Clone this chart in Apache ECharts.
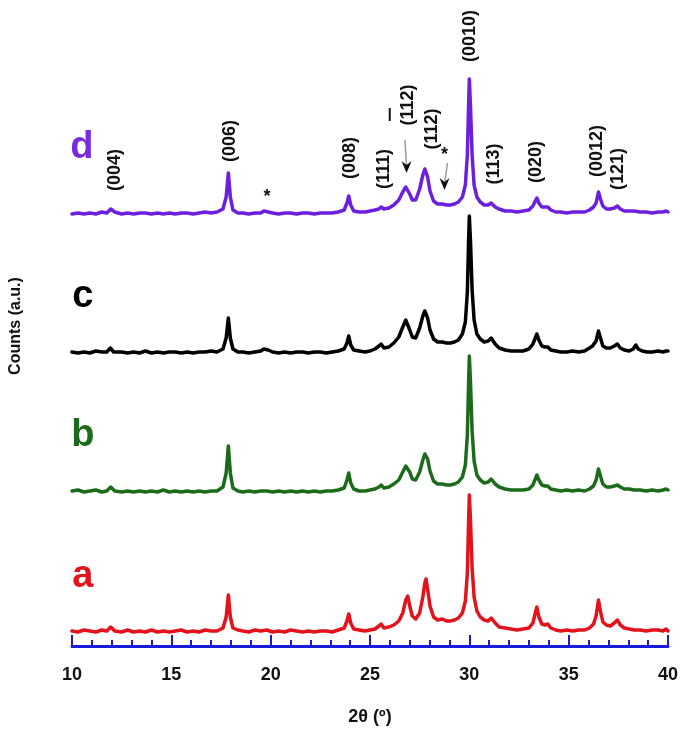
<!DOCTYPE html>
<html>
<head>
<meta charset="utf-8">
<script src="https://cdn.jsdelivr.net/npm/echarts@6/dist/echarts.min.js"></script>
<style>
html,body{margin:0;padding:0;background:#fff;}
#main{width:685px;height:736px;}
</style>
</head>
<body>
<div id="main"></div>
<script>
// ---- Data (2θ in degrees, intensity in arbitrary counts) ----
const sampleNames = ['a', 'b', 'c', 'd'];
const sampleOffsets = [13, 153, 292, 431];

const patternA = [[10.0,2],[10.3,1],[10.6,3],[10.9,2],[11.2,1],[11.5,3],[11.75,2],[11.95,6],[12.15,2],[12.5,1],[12.8,3],[13.1,1],[13.4,2],[13.7,1],[14.0,3],[14.3,1],[14.6,2],[14.9,1],[15.2,2],[15.5,3],[15.8,1],[16.1,2],[16.4,1],[16.7,3],[17.0,2],[17.3,2],[17.6,5],[17.76,16],[17.87,38],[17.97,16],[18.1,5],[18.35,3],[18.6,2],[18.9,1],[19.2,3],[19.5,2],[19.8,3],[20.1,1],[20.4,2],[20.7,1],[21.0,3],[21.3,2],[21.6,1],[21.9,2],[22.2,1],[22.5,2],[22.8,2],[23.1,1],[23.4,3],[23.7,5],[23.84,12],[23.93,19],[24.03,10],[24.18,4],[24.45,3],[24.75,2],[25.0,3],[25.25,4],[25.45,7],[25.56,9],[25.7,5],[25.95,6],[26.2,8],[26.45,12],[26.65,20],[26.8,33],[26.9,37],[27.0,27],[27.13,17],[27.3,14],[27.5,20],[27.66,36],[27.76,50],[27.82,54],[27.9,44],[28.02,27],[28.2,16],[28.4,13],[28.64,14],[28.85,12],[29.05,12],[29.25,13],[29.45,15],[29.65,20],[29.8,32],[29.9,60],[29.96,110],[30.0,138],[30.06,112],[30.14,65],[30.24,36],[30.38,22],[30.55,16],[30.75,13],[30.95,12],[31.1,15],[31.17,16],[31.3,10],[31.5,6],[31.8,5],[32.1,4],[32.4,3],[32.7,4],[33.0,5],[33.2,10],[33.32,20],[33.4,26],[33.5,16],[33.65,9],[33.8,8],[33.95,9],[34.1,5],[34.35,3],[34.6,2],[34.9,3],[35.2,2],[35.5,3],[35.8,3],[36.05,5],[36.25,9],[36.38,17],[36.5,33],[36.6,22],[36.72,11],[36.9,8],[37.1,7],[37.3,10],[37.45,13],[37.6,8],[37.8,5],[38.05,4],[38.3,3],[38.6,3],[38.9,2],[39.2,3],[39.5,3],[39.75,2],[39.9,4],[40.0,2]];

const patternB = [[10.0,2],[10.3,3],[10.6,1],[10.9,2],[11.2,3],[11.5,1],[11.75,2],[11.95,6],[12.15,2],[12.5,1],[12.8,2],[13.1,1],[13.4,2],[13.7,1],[14.0,2],[14.3,1],[14.6,3],[14.9,1],[15.2,2],[15.5,1],[15.8,2],[16.1,1],[16.4,2],[16.7,1],[17.0,2],[17.3,2],[17.6,6],[17.76,20],[17.87,47],[17.97,20],[18.1,5],[18.35,2],[18.6,1],[18.9,2],[19.2,1],[19.5,2],[19.8,2],[20.1,1],[20.4,2],[20.7,1],[21.0,2],[21.3,1],[21.6,2],[21.9,1],[22.2,2],[22.5,1],[22.8,2],[23.1,2],[23.4,3],[23.7,5],[23.84,13],[23.93,20],[24.03,10],[24.18,4],[24.45,2],[24.75,2],[25.0,3],[25.25,4],[25.45,6],[25.56,8],[25.7,5],[25.95,6],[26.2,9],[26.45,13],[26.65,21],[26.8,27],[26.9,28],[27.0,21],[27.13,14],[27.3,13],[27.5,21],[27.66,33],[27.76,39],[27.82,41],[27.9,34],[28.02,22],[28.2,12],[28.4,9],[28.64,9],[28.85,8],[29.05,8],[29.25,9],[29.45,11],[29.65,16],[29.8,28],[29.9,58],[29.96,108],[30.0,137],[30.06,110],[30.14,62],[30.24,32],[30.38,18],[30.55,13],[30.75,10],[30.95,11],[31.1,14],[31.17,15],[31.3,9],[31.5,6],[31.8,4],[32.1,3],[32.4,3],[32.7,3],[33.0,4],[33.2,8],[33.32,14],[33.4,18],[33.5,13],[33.65,8],[33.8,7],[33.95,7],[34.1,4],[34.35,3],[34.6,2],[34.9,3],[35.2,2],[35.5,3],[35.8,2],[36.05,4],[36.25,7],[36.38,13],[36.5,24],[36.6,17],[36.72,9],[36.9,6],[37.1,6],[37.3,7],[37.45,8],[37.6,6],[37.8,4],[38.05,4],[38.3,3],[38.6,3],[38.9,2],[39.2,3],[39.5,2],[39.75,3],[39.9,4],[40.0,3]];

const patternC = [[10.0,2],[10.3,1],[10.6,2],[10.9,1],[11.2,3],[11.5,2],[11.75,2],[11.93,6],[12.1,2],[12.5,2],[12.8,1],[13.1,2],[13.4,1],[13.7,3],[14.0,1],[14.3,2],[14.6,1],[14.9,2],[15.2,2],[15.5,1],[15.8,2],[16.1,1],[16.4,2],[16.7,2],[17.0,3],[17.3,2],[17.6,5],[17.76,16],[17.87,36],[17.97,16],[18.1,5],[18.35,2],[18.6,2],[18.9,1],[19.2,2],[19.5,3],[19.66,5],[19.76,7],[19.88,4],[20.1,2],[20.4,1],[20.7,2],[21.0,1],[21.3,2],[21.6,2],[21.9,1],[22.2,2],[22.5,2],[22.8,1],[23.1,2],[23.4,3],[23.7,5],[23.84,11],[23.93,18],[24.03,9],[24.18,4],[24.45,3],[24.75,2],[25.0,3],[25.25,5],[25.45,8],[25.56,10],[25.7,6],[25.95,7],[26.2,11],[26.45,17],[26.65,27],[26.8,34],[26.88,33],[27.0,24],[27.13,17],[27.3,16],[27.5,26],[27.66,38],[27.76,43],[27.82,42],[27.9,36],[28.02,24],[28.2,15],[28.4,12],[28.64,12],[28.85,11],[29.05,11],[29.25,12],[29.45,14],[29.65,20],[29.8,32],[29.9,62],[29.96,112],[30.0,138],[30.06,112],[30.14,64],[30.24,34],[30.38,20],[30.55,15],[30.75,12],[30.95,13],[31.1,16],[31.17,17],[31.3,10],[31.5,6],[31.8,4],[32.1,3],[32.4,3],[32.7,3],[33.0,5],[33.2,10],[33.32,16],[33.4,20],[33.5,14],[33.65,8],[33.8,7],[33.95,7],[34.1,4],[34.35,3],[34.6,2],[34.9,2],[35.2,3],[35.5,2],[35.8,3],[36.05,6],[36.2,8],[36.38,13],[36.5,23],[36.6,16],[36.72,8],[36.9,6],[37.1,6],[37.3,8],[37.45,10],[37.6,6],[37.8,4],[38.05,3],[38.25,5],[38.38,9],[38.5,5],[38.7,3],[38.95,2],[39.2,2],[39.5,3],[39.75,2],[39.9,3],[40.0,3]];

const patternD = [[10.0,1],[10.3,2],[10.6,1],[10.9,2],[11.2,1],[11.5,3],[11.75,2],[11.95,6],[12.15,3],[12.5,1],[12.8,2],[13.1,1],[13.4,2],[13.7,2],[14.0,1],[14.3,2],[14.6,1],[14.9,2],[15.2,1],[15.5,2],[15.8,2],[16.1,1],[16.4,2],[16.7,3],[17.0,2],[17.3,3],[17.6,6],[17.76,18],[17.87,42],[17.97,18],[18.1,5],[18.35,2],[18.6,2],[18.9,1],[19.2,2],[19.5,2],[19.66,4],[19.76,6],[19.88,3],[20.1,2],[20.4,1],[20.7,2],[21.0,2],[21.3,1],[21.6,2],[21.9,2],[22.2,1],[22.5,2],[22.8,2],[23.1,2],[23.4,3],[23.7,5],[23.84,12],[23.93,19],[24.03,10],[24.18,4],[24.45,3],[24.75,3],[25.0,4],[25.25,5],[25.45,6],[25.56,8],[25.7,6],[25.95,7],[26.2,10],[26.45,15],[26.65,23],[26.8,28],[26.9,27],[27.0,21],[27.13,15],[27.3,15],[27.5,26],[27.66,40],[27.76,46],[27.82,47],[27.9,38],[28.02,24],[28.2,14],[28.4,11],[28.64,11],[28.85,10],[29.05,10],[29.25,11],[29.45,13],[29.65,18],[29.8,30],[29.9,60],[29.96,108],[30.0,136],[30.06,108],[30.14,60],[30.24,30],[30.38,18],[30.55,13],[30.75,10],[30.95,10],[31.1,12],[31.17,13],[31.3,8],[31.5,6],[31.8,4],[32.1,4],[32.4,3],[32.7,4],[33.0,5],[33.2,9],[33.32,14],[33.4,17],[33.5,12],[33.65,8],[33.8,8],[33.95,8],[34.1,5],[34.35,3],[34.6,3],[34.9,2],[35.2,3],[35.5,3],[35.8,3],[36.05,5],[36.25,8],[36.38,12],[36.5,23],[36.6,16],[36.72,9],[36.9,6],[37.1,6],[37.3,7],[37.45,9],[37.6,6],[37.8,4],[38.05,4],[38.3,4],[38.6,3],[38.9,3],[39.2,2],[39.5,3],[39.75,3],[39.9,4],[40.0,3]];

const xTicks = [10, 15, 20, 25, 30, 35, 40];

// Reflection labels (2θ position, height in plot units)
const reflText = ['(004)', '(006)', '(008)', '(111)', '(112)', '(112)', '(0010)', '(113)', '(020)', '(0012)', '(121)'];
const reflX = [12.15, 17.97, 24.0, 25.7, 26.9, 28.1, 30.05, 31.25, 33.35, 36.45, 37.5];
const reflY = [476, 505, 488, 477, 541, 517, 610, 482, 484, 495, 477];
const reflBar = [false, false, false, false, true, false, false, false, false, false, false];
const starX = [19.82, 28.75];
const starY = [449, 491];
const arrowFromX = [26.76, 28.9];
const arrowFromY = [506, 483];
const arrowToX = [26.84, 28.75];
const arrowToY = [473, 456];
const nameX = [10.55, 10.55, 10.55, 10.5];
const nameY = [69, 210, 349, 498];

// ---- Styles ----
const colors = ['#e3121b', '#1b6b1b', '#000000', '#6d1fe0'];
const nameColors = ['#e3121b', '#1b6b1b', '#000000', '#7a2ae0'];
const FONT = '"Liberation Sans", Arial, Helvetica, sans-serif';
const BLUE = '#1a1ad8';

const patterns = [patternA, patternB, patternC, patternD];
const series = patterns.map((pat, i) => ({
  name: sampleNames[i],
  type: 'line',
  data: pat.map(p => [p[0], p[1] + sampleOffsets[i]]),
  showSymbol: false,
  symbol: 'none',
  smooth: false,
  lineStyle: { color: colors[i], width: 3.5, join: 'round', cap: 'round' },
  itemStyle: { color: colors[i] },
  z: 3
}));

const chart = echarts.init(document.getElementById('main'), null, { renderer: 'canvas' });
const option = {
  animation: false,
  backgroundColor: '#ffffff',
  grid: { left: 69, right: 17, top: 6, bottom: 90 },
  xAxis: {
    type: 'value', min: 10, max: 40, interval: 5,
    name: '2θ (º)', nameLocation: 'middle', nameGap: 62,
    nameTextStyle: { color: '#111', fontSize: 18, fontWeight: 'bold', fontFamily: FONT },
    axisLine: { show: true, onZero: false, lineStyle: { color: BLUE, width: 3 } },
    axisTick: { show: true, inside: true, length: 11, lineStyle: { color: BLUE, width: 2 } },
    minorTick: { show: true, splitNumber: 5, length: 6, lineStyle: { color: BLUE, width: 2 } },
    splitLine: { show: false },
    axisLabel: {
      color: '#111', fontSize: 18, fontWeight: 'bold', fontFamily: FONT, margin: 20,
      formatter: v => (xTicks.indexOf(v) >= 0 ? String(v) : '')
    }
  },
  yAxis: {
    type: 'value', min: 0, max: 640,
    name: 'Counts (a.u.)', nameLocation: 'middle', nameGap: 48,
    nameTextStyle: { color: '#111', fontSize: 16, fontWeight: 'bold', fontFamily: FONT },
    axisLine: { show: false }, axisTick: { show: false }, axisLabel: { show: false },
    splitLine: { show: false }
  },
  series: series
};
chart.setOption(option);

function px(x, y) { return chart.convertToPixel({ gridIndex: 0 }, [x, y]); }
const g = [];
reflText.forEach((t, i) => {
  const p = px(reflX[i], reflY[i]);
  g.push({
    type: 'text', x: p[0], y: p[1], rotation: Math.PI / 2, z: 10,
    style: { text: t, fill: '#111', fontSize: 18, fontWeight: 'bold', fontFamily: FONT, align: 'center', verticalAlign: 'middle' }
  });
  if (reflBar[i]) {
    g.push({
      type: 'line', z: 10,
      shape: { x1: p[0] - 18, y1: p[1] + 16, x2: p[0] - 18, y2: p[1] + 3 },
      style: { stroke: '#111', lineWidth: 2 }
    });
  }
});
starX.forEach((x, i) => {
  const p = px(x, starY[i]);
  g.push({
    type: 'text', x: p[0], y: p[1], z: 10,
    style: { text: '*', fill: '#111', fontSize: 18, fontWeight: 'bold', fontFamily: FONT, align: 'center', verticalAlign: 'middle' }
  });
});
arrowFromX.forEach((x, i) => {
  const a = px(x, arrowFromY[i]);
  const b = px(arrowToX[i], arrowToY[i]);
  g.push({
    type: 'line', z: 10,
    shape: { x1: a[0], y1: a[1], x2: b[0], y2: b[1] - 6 },
    style: { stroke: '#9a9a9a', lineWidth: 1.5 }
  });
  g.push({
    type: 'polygon', z: 10,
    shape: { points: [[b[0], b[1]], [b[0] - 5, b[1] - 12], [b[0], b[1] - 8], [b[0] + 5, b[1] - 12]] },
    style: { fill: '#111' }
  });
});
sampleNames.forEach((n, i) => {
  const p = px(nameX[i], nameY[i]);
  g.push({
    type: 'text', x: p[0], y: p[1], z: 10,
    style: { text: n, fill: nameColors[i], fontSize: 38, fontWeight: 'bold', fontFamily: FONT, align: 'center', verticalAlign: 'middle' }
  });
});
chart.setOption({ graphic: g });
</script>
</body>
</html>
